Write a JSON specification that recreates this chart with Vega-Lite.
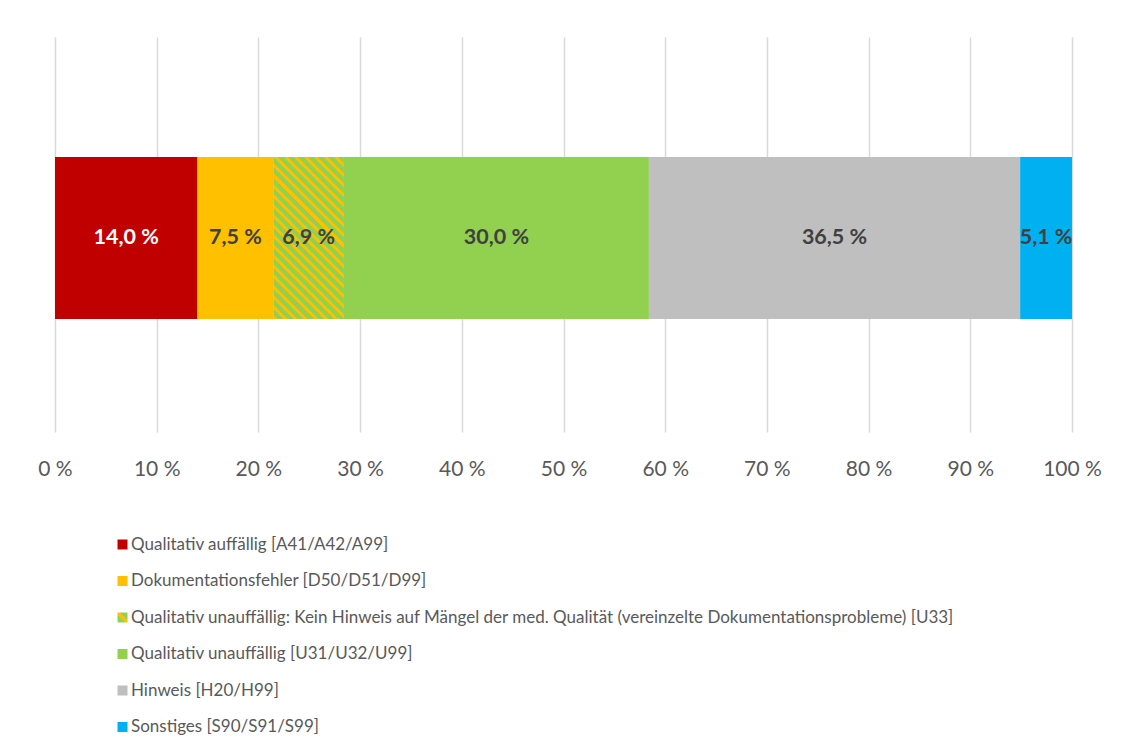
{
  "$schema": "https://vega.github.io/schema/vega-lite/v6.json",
  "width": 1017,
  "height": 395,
  "autosize": {"type": "none"},
  "padding": {"left": 55, "top": 37, "right": 66, "bottom": 308},
  "background": "white",
  "config": {
    "view": {"stroke": null},
    "font": "Lato"
  },
  "data": {
    "values": [
      {"row": "a", "idx": 1, "cat": "Qualitativ auffällig [A41/A42/A99]", "value": 14.0, "label": "14,0 %"},
      {"row": "a", "idx": 2, "cat": "Dokumentationsfehler [D50/D51/D99]", "value": 7.5, "label": "7,5 %"},
      {"row": "a", "idx": 3, "cat": "Qualitativ unauffällig: Kein Hinweis auf Mängel der med. Qualität (vereinzelte Dokumentationsprobleme) [U33]", "value": 6.9, "label": "6,9 %"},
      {"row": "a", "idx": 4, "cat": "Qualitativ unauffällig [U31/U32/U99]", "value": 30.0, "label": "30,0 %"},
      {"row": "a", "idx": 5, "cat": "Hinweis [H20/H99]", "value": 36.5, "label": "36,5 %"},
      {"row": "a", "idx": 6, "cat": "Sonstiges [S90/S91/S99]", "value": 5.1, "label": "5,1 %"}
    ]
  },
  "encoding": {
    "y": {
      "field": "row",
      "type": "nominal",
      "axis": null,
      "scale": {"paddingInner": 0, "paddingOuter": 0.719, "align": 0.515}
    }
  },
  "layer": [
    {
      "mark": {"type": "bar"},
      "encoding": {
        "x": {
          "field": "value",
          "type": "quantitative",
          "stack": "zero",
          "scale": {"domain": [0, 100], "nice": false},
          "axis": {
            "values": [0, 10, 20, 30, 40, 50, 60, 70, 80, 90, 100],
            "labelExpr": "datum.value + ' %'",
            "title": null,
            "domain": false,
            "ticks": false,
            "tickSize": 0,
            "grid": true,
            "gridColor": "#d9d9d9",
            "gridWidth": 1.5,
            "labelFlush": false,
            "labelFont": "Lato",
            "labelFontSize": 21,
            "labelColor": "#595959",
            "labelPadding": 26
          }
        },
        "color": {
          "field": "cat",
          "type": "nominal",
          "scale": {
            "domain": [
              "Qualitativ auffällig [A41/A42/A99]",
              "Dokumentationsfehler [D50/D51/D99]",
              "Qualitativ unauffällig: Kein Hinweis auf Mängel der med. Qualität (vereinzelte Dokumentationsprobleme) [U33]",
              "Qualitativ unauffällig [U31/U32/U99]",
              "Hinweis [H20/H99]",
              "Sonstiges [S90/S91/S99]"
            ],
            "range": ["#C00000", "#FFC000", "#92D050", "#92D050", "#BFBFBF", "#00B0F0"]
          },
          "legend": {
            "title": null,
            "orient": "none",
            "legendX": 59,
            "legendY": 499,
            "direction": "vertical",
            "symbolType": "square",
            "symbolSize": 25,
            "symbolStrokeWidth": 5,
            "symbolOpacity": 1,
            "labelFont": "Lato",
            "labelFontSize": 17,
            "labelColor": "#595959",
            "labelOffset": 0,
            "labelLimit": 1000,
            "rowPadding": 11.5,
            "padding": 0,
            "encode": {
              "symbols": {
                "update": {
                  "stroke": [
                    {
                      "test": "datum.value === 'Qualitativ unauffällig: Kein Hinweis auf Mängel der med. Qualität (vereinzelte Dokumentationsprobleme) [U33]'",
                      "value": {
                        "gradient": "linear",
                        "x1": 0, "y1": 1, "x2": 1, "y2": 0,
                        "stops": [
                          {"offset": 0, "color": "#92D050"},
                          {"offset": 0.27, "color": "#92D050"},
                          {"offset": 0.27, "color": "#FFC000"},
                          {"offset": 0.73, "color": "#FFC000"},
                          {"offset": 0.73, "color": "#92D050"},
                          {"offset": 1, "color": "#92D050"}
                        ]
                      }
                    },
                    {"scale": "color", "field": "value"}
                  ],
                  "strokeWidth": {"value": 5}
                }
              }
            }
          }
        },
        "order": {"field": "idx", "type": "quantitative"}
      }
    },
    {
      "mark": {
        "type": "bar",
        "fill": {
          "gradient": "linear",
          "x1": 0, "y1": 1, "x2": 0.5227, "y2": -0.2068,
          "stops": [
            {"offset": 0, "color": "#FFC000"}, {"offset": 0.0174, "color": "#FFC000"}, {"offset": 0.0174, "color": "#92D050"}, {"offset": 0.0435, "color": "#92D050"},
            {"offset": 0.0435, "color": "#FFC000"}, {"offset": 0.0609, "color": "#FFC000"}, {"offset": 0.0609, "color": "#92D050"}, {"offset": 0.0870, "color": "#92D050"},
            {"offset": 0.0870, "color": "#FFC000"}, {"offset": 0.1043, "color": "#FFC000"}, {"offset": 0.1043, "color": "#92D050"}, {"offset": 0.1304, "color": "#92D050"},
            {"offset": 0.1304, "color": "#FFC000"}, {"offset": 0.1478, "color": "#FFC000"}, {"offset": 0.1478, "color": "#92D050"}, {"offset": 0.1739, "color": "#92D050"},
            {"offset": 0.1739, "color": "#FFC000"}, {"offset": 0.1913, "color": "#FFC000"}, {"offset": 0.1913, "color": "#92D050"}, {"offset": 0.2174, "color": "#92D050"},
            {"offset": 0.2174, "color": "#FFC000"}, {"offset": 0.2348, "color": "#FFC000"}, {"offset": 0.2348, "color": "#92D050"}, {"offset": 0.2609, "color": "#92D050"},
            {"offset": 0.2609, "color": "#FFC000"}, {"offset": 0.2783, "color": "#FFC000"}, {"offset": 0.2783, "color": "#92D050"}, {"offset": 0.3043, "color": "#92D050"},
            {"offset": 0.3043, "color": "#FFC000"}, {"offset": 0.3217, "color": "#FFC000"}, {"offset": 0.3217, "color": "#92D050"}, {"offset": 0.3478, "color": "#92D050"},
            {"offset": 0.3478, "color": "#FFC000"}, {"offset": 0.3652, "color": "#FFC000"}, {"offset": 0.3652, "color": "#92D050"}, {"offset": 0.3913, "color": "#92D050"},
            {"offset": 0.3913, "color": "#FFC000"}, {"offset": 0.4087, "color": "#FFC000"}, {"offset": 0.4087, "color": "#92D050"}, {"offset": 0.4348, "color": "#92D050"},
            {"offset": 0.4348, "color": "#FFC000"}, {"offset": 0.4522, "color": "#FFC000"}, {"offset": 0.4522, "color": "#92D050"}, {"offset": 0.4783, "color": "#92D050"},
            {"offset": 0.4783, "color": "#FFC000"}, {"offset": 0.4957, "color": "#FFC000"}, {"offset": 0.4957, "color": "#92D050"}, {"offset": 0.5217, "color": "#92D050"},
            {"offset": 0.5217, "color": "#FFC000"}, {"offset": 0.5391, "color": "#FFC000"}, {"offset": 0.5391, "color": "#92D050"}, {"offset": 0.5652, "color": "#92D050"},
            {"offset": 0.5652, "color": "#FFC000"}, {"offset": 0.5826, "color": "#FFC000"}, {"offset": 0.5826, "color": "#92D050"}, {"offset": 0.6087, "color": "#92D050"},
            {"offset": 0.6087, "color": "#FFC000"}, {"offset": 0.6261, "color": "#FFC000"}, {"offset": 0.6261, "color": "#92D050"}, {"offset": 0.6522, "color": "#92D050"},
            {"offset": 0.6522, "color": "#FFC000"}, {"offset": 0.6696, "color": "#FFC000"}, {"offset": 0.6696, "color": "#92D050"}, {"offset": 0.6957, "color": "#92D050"},
            {"offset": 0.6957, "color": "#FFC000"}, {"offset": 0.7130, "color": "#FFC000"}, {"offset": 0.7130, "color": "#92D050"}, {"offset": 0.7391, "color": "#92D050"},
            {"offset": 0.7391, "color": "#FFC000"}, {"offset": 0.7565, "color": "#FFC000"}, {"offset": 0.7565, "color": "#92D050"}, {"offset": 0.7826, "color": "#92D050"},
            {"offset": 0.7826, "color": "#FFC000"}, {"offset": 0.8000, "color": "#FFC000"}, {"offset": 0.8000, "color": "#92D050"}, {"offset": 0.8261, "color": "#92D050"},
            {"offset": 0.8261, "color": "#FFC000"}, {"offset": 0.8435, "color": "#FFC000"}, {"offset": 0.8435, "color": "#92D050"}, {"offset": 0.8696, "color": "#92D050"},
            {"offset": 0.8696, "color": "#FFC000"}, {"offset": 0.8870, "color": "#FFC000"}, {"offset": 0.8870, "color": "#92D050"}, {"offset": 0.9130, "color": "#92D050"},
            {"offset": 0.9130, "color": "#FFC000"}, {"offset": 0.9304, "color": "#FFC000"}, {"offset": 0.9304, "color": "#92D050"}, {"offset": 0.9565, "color": "#92D050"},
            {"offset": 0.9565, "color": "#FFC000"}, {"offset": 0.9739, "color": "#FFC000"}, {"offset": 0.9739, "color": "#92D050"}, {"offset": 1, "color": "#92D050"}
          ]
        }
      },
      "encoding": {
        "x": {"field": "value", "type": "quantitative", "stack": "zero"},
        "detail": {"field": "cat", "type": "nominal"},
        "order": {"field": "idx", "type": "quantitative"},
        "opacity": {"condition": {"test": "datum.idx === 3", "value": 1}, "value": 0}
      }
    },
    {
      "mark": {"type": "text", "font": "Lato", "fontSize": 21.5, "fontWeight": "bold", "align": "center", "baseline": "middle"},
      "encoding": {
        "x": {"field": "value", "type": "quantitative", "stack": "zero", "bandPosition": 0.5},
        "detail": {"field": "cat", "type": "nominal"},
        "order": {"field": "idx", "type": "quantitative"},
        "text": {"field": "label", "type": "nominal"},
        "color": {"condition": {"test": "datum.idx === 1", "value": "#FFFFFF"}, "value": "#404040"}
      }
    }
  ]
}
